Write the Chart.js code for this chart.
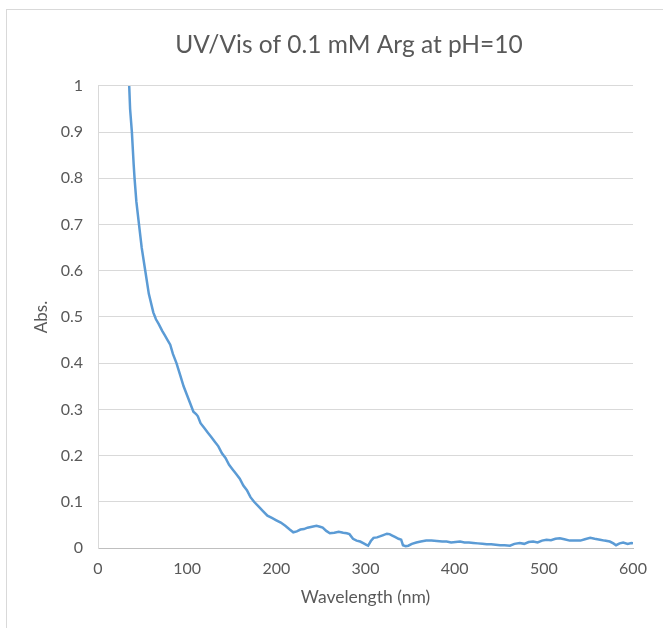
<!DOCTYPE html>
<html>
<head>
<meta charset="utf-8">
<script src="https://cdn.jsdelivr.net/npm/chart.js@4.4.1/dist/chart.umd.min.js"></script>
<style>
  html, body { margin: 0; padding: 0; background: #fff; overflow: hidden; }
  #frame { position: absolute; left: 6px; top: 9px; width: 720px; height: 700px; border: 1px solid #d9d9d9; }
  #wrap { position: absolute; left: 0; top: 0; width: 663px; height: 628px; }
</style>
</head>
<body>
<div id="frame"></div>
<div id="wrap"><canvas id="chart"></canvas></div>
<script>
// wavelength (nm) and absorbance
let wavelength = [35, 36, 38, 40, 41, 43, 46, 49, 53, 57, 62, 65, 68, 72, 75, 78, 81, 84, 88, 92,
  96, 100, 104, 107, 110, 112, 115, 119, 123, 127, 131, 135, 139, 143, 147, 151, 155, 159, 163, 167,
  171, 175, 180, 185, 190, 195, 200, 205, 210, 215, 219, 223, 227, 231, 235, 240, 245, 249, 252, 256,
  260, 265, 270, 275, 279, 282, 286, 290, 294, 298, 301, 303, 306, 309, 313, 316, 320, 324, 327, 330,
  333, 337, 340, 342, 345, 348, 352, 357, 362, 368, 374, 380, 386, 391, 396, 401, 406, 411, 416, 421,
  426, 431, 436, 441, 446, 451, 456, 462, 467, 473, 478, 483, 488, 493, 498, 503, 508, 513, 518, 523,
  529, 535, 541, 546, 552, 557, 563, 568, 574, 578, 581, 585, 589, 594, 598, 600];
let absorbance = [1.0, 0.95, 0.9, 0.83, 0.8, 0.75, 0.7, 0.65, 0.6, 0.55, 0.51, 0.495, 0.485, 0.47, 0.46, 0.45, 0.44, 0.42, 0.40, 0.375,
  0.35, 0.33, 0.31, 0.295, 0.29, 0.285, 0.27, 0.26, 0.25, 0.24, 0.23, 0.22, 0.205, 0.195, 0.18, 0.17, 0.16, 0.15, 0.135, 0.125,
  0.11, 0.10, 0.09, 0.08, 0.07, 0.065, 0.06, 0.055, 0.048, 0.04, 0.034, 0.036, 0.04, 0.041, 0.044, 0.046, 0.048, 0.046, 0.044, 0.037,
  0.032, 0.033, 0.035, 0.033, 0.032, 0.03, 0.02, 0.016, 0.014, 0.01, 0.007, 0.005, 0.015, 0.022, 0.023, 0.025, 0.028, 0.031, 0.03, 0.027,
  0.024, 0.02, 0.018, 0.006, 0.004, 0.005, 0.009, 0.012, 0.014, 0.016, 0.016, 0.015, 0.014, 0.014, 0.012, 0.013, 0.014, 0.012, 0.012, 0.011,
  0.01, 0.009, 0.008, 0.008, 0.007, 0.006, 0.006, 0.005, 0.009, 0.011, 0.009, 0.013, 0.014, 0.012, 0.016, 0.018, 0.017, 0.02, 0.021, 0.019,
  0.016, 0.016, 0.016, 0.019, 0.022, 0.02, 0.018, 0.016, 0.014, 0.01, 0.006, 0.01, 0.012, 0.009, 0.011, 0.01];

let xRange = [0, 600];
let yRange = [0, 1];

let points = wavelength.map((w, i) => ({x: w, y: absorbance[i]}));

let textColor = "#595959";
Chart.defaults.font.family = "Lato, 'Open Sans', sans-serif";
Chart.defaults.color = textColor;

// the reference centres its title on the (wider) chart frame, not the canvas
const titleShift = {
  id: 'titleShift',
  afterLayout(chart) { chart.titleBlock.left = 65; }
};

const theChart = new Chart(document.getElementById("chart"), {
  type: 'scatter',
  data: {
    datasets: [{
      data: points,
      showLine: true,
      borderColor: "#5B9BD5",
      borderWidth: 2.5,
      pointRadius: 0,
      tension: 0
    }]
  },
  options: {
    responsive: true,
    maintainAspectRatio: false,
    animation: false,
    layout: { padding: { left: 0, right: 30, top: 0, bottom: 0 } },
    plugins: {
      legend: { display: false },
      tooltip: { enabled: false },
      title: {
        display: true,
        text: 'UV/Vis of 0.1 mM Arg at pH=10',
        font: { size: 24.5, weight: 'normal' },
        color: textColor,
        padding: { top: 30, bottom: 26.5 }
      }
    },
    scales: {
      x: {
        type: 'linear',
        min: xRange[0],
        max: xRange[1],
        ticks: { stepSize: 100, padding: 11, font: { size: 16 }, color: textColor },
        grid: { display: false, drawTicks: false },
        border: { display: true, color: "#bfbfbf", width: 1 },
        title: { display: true, text: 'Wavelength (nm)', font: { size: 17.5 }, color: textColor, padding: { top: 0, bottom: 20.5 } },
        afterFit: scale => { scale.height = 80; }
      },
      y: {
        min: yRange[0],
        max: yRange[1],
        ticks: {
          stepSize: 0.1, padding: 15, font: { size: 16 }, color: textColor,
          callback: v => String(Math.round(v * 10) / 10)
        },
        grid: { color: "#d9d9d9", lineWidth: 1, drawTicks: false },
        border: { display: true, color: "#d9d9d9", width: 1 },
        title: { display: true, text: 'Abs.', font: { size: 17 }, color: textColor, padding: { top: 31, bottom: 0 } },
        afterFit: scale => { scale.width = 98; }
      }
    }
  },
  plugins: [titleShift]
});
</script>
</body>
</html>
